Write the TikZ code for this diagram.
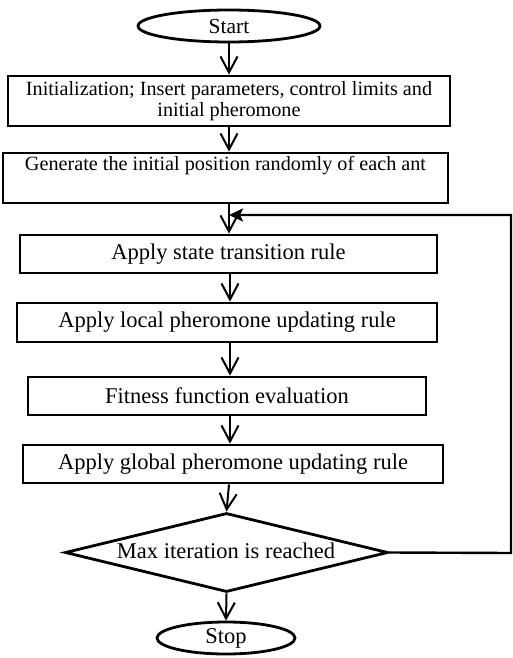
\documentclass[tikz,border=0pt]{standalone}
\usepackage{fontspec}
\setmainfont{Liberation Serif}
\usetikzlibrary{shapes.geometric,arrows.meta}
\begin{document}
\begin{tikzpicture}[x=1pt,y=-1pt,
  every node/.style={font=\fontsize{22.5}{24}\selectfont},
  smalltext/.style={font=\fontsize{20.2}{23.5}\selectfont},
  procbox/.style={draw,line width=2.8pt,rectangle,inner sep=0pt,align=center},
  term/.style={draw,line width=2.8pt,ellipse,inner sep=0pt},
  decision/.style={draw,line width=2.8pt,diamond,inner sep=0pt,aspect=4.09},
  flow/.style={line width=2pt,-{Straight Barb[length=16pt,width=17pt,line width=2pt]}},
  back/.style={line width=2.4pt,-{Stealth[length=14pt,width=13pt,inset=3pt]}}]
\useasboundingbox (0,0) rectangle (513,658);
\node[term,minimum width=182pt,minimum height=32pt,font=\fontsize{21.5}{23}\selectfont] (start) at (229,26) {Start};
\node[procbox,smalltext,minimum width=442pt,minimum height=50pt] (init) at (229,101)
  {\raisebox{-2pt}{Initialization; Insert parameters, control limits and}\\initial pheromone};
\node[procbox,smalltext,minimum width=445pt,minimum height=50pt] (gen) at (225.5,178)
  {\raisebox{-4pt}{Generate the initial position randomly of each ant}\\\strut};
\node[procbox,minimum width=417pt,minimum height=38pt] (state) at (228.5,254) {Apply state transition rule};
\node[procbox,minimum width=420pt,minimum height=39pt] (local) at (227,322.5) {Apply local pheromone updating rule};
\node[procbox,minimum width=398pt,minimum height=38pt] (fit) at (227,396) {Fitness function evaluation};
\node[procbox,minimum width=420pt,minimum height=38pt] (glob) at (233,464) {Apply global pheromone updating rule};
\node[decision,minimum width=323pt,minimum height=79pt] (max) at (226.5,552.5) {};
\node (maxt) at (226,551) {Max iteration is reached};
\node[term,minimum width=138pt,minimum height=32pt] (stop) at (226,638) {Stop};
\coordinate (j) at (229,215);
\coordinate (r1) at (511,553);
\coordinate (r2) at (511,215);
\draw[flow] (start.south -| 229,0) -- (init.north -| 229,0);
\draw[flow] (init.south -| 229,0) -- (gen.north -| 229,0);
\draw[flow] (gen.south -| 229,0) -- (state.north -| 229,0);
\draw[flow] (state.south -| 230,0) -- (local.north -| 230,0);
\draw[flow] (local.south -| 230,0) -- (fit.north -| 230,0);
\draw[flow] (fit.south -| 230,0) -- (glob.north -| 230,0);
\draw[flow] (glob.south -| 229,0) -- (max.north);
\draw[flow] (max.south) -- (stop.north);
\draw[back] (max.east) -- (r1) -- (r2) -- (j);
\end{tikzpicture}
\end{document}
